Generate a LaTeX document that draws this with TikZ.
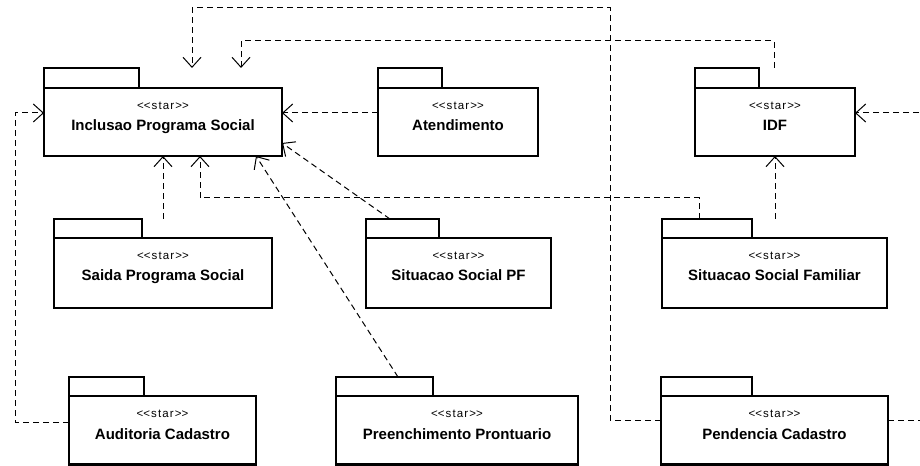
\documentclass[tikz,border=0pt]{standalone}
\usepackage{fontspec}
\setmainfont{Liberation Sans}
\usetikzlibrary{arrows.meta,fit}

% stereotype text, with kerns so the two angle brackets stay separate characters
\newcommand\stereotag{<\kern0pt<star>\kern0pt>}

% one UML package: outline area, body, tab, stereotype and title
% #1 id, #2 left, #3 tab top, #4 body top, #5 right, #6 bottom, #7 tab right, #8 title
\newcommand\umlpkg[8]{%
  \node[pkgarea, fit={(#2,#3) (#5,#6)}] (#1) {};
  \node[pkgbox, fit={(#2,#4) (#5,#6)}] (#1-body) {};
  \node[pkgbox, fit={(#2,#3) (#7,#4)}] (#1-tab) {};
  \node[stereo] (#1-st) at ([yshift=-21.5bp]#1-body.north) {\stereotag};
  \node[pkgname] (#1-nm) at ([yshift=-43bp]#1-body.north) {#8};
}

\tikzset{
  pkgarea/.style={rectangle, inner sep=0pt, outer sep=0pt},
  pkgbox/.style={rectangle, draw=black, line width=2.4bp, inner sep=0pt, outer sep=0pt, fill=white},
  stereo/.style={anchor=base, inner sep=0pt,
    font=\addfontfeature{LetterSpace=10}\fontsize{11.5bp}{13bp}\selectfont},
  pkgname/.style={anchor=base, inner sep=0pt, font=\bfseries\fontsize{15bp}{17bp}\selectfont},
  dep/.style={draw=black, line width=1bp, dash pattern=on 6bp off 4bp,
    -{Straight Barb[length=10bp, width=18bp, line width=1bp]}},
}

\begin{document}
\begin{tikzpicture}[x=1bp, y=-1bp]
  \useasboundingbox (0,0) rectangle (920,466);
  \fill[white] (0,0) rectangle (920,466);
  \clip (0,0) rectangle (920,466);

  % packages
  \umlpkg{inc}{44}{68}{88}{282}{156}{139}{Inclusao Programa Social}
  \umlpkg{ate}{378}{68}{88}{538}{156}{442}{Atendimento}
  \umlpkg{idf}{695}{68}{88}{855}{156}{759}{IDF}
  \umlpkg{sai}{54}{219}{238}{272}{308}{142}{Saida Programa Social}
  \umlpkg{sspf}{366}{219}{238}{551}{308}{439}{Situacao Social PF}
  \umlpkg{ssf}{662}{219}{238}{887}{308}{752}{Situacao Social Familiar}
  \umlpkg{aud}{69}{377}{396}{256}{464.5}{144}{Auditoria Cadastro}
  \umlpkg{pre}{336}{377}{396}{578}{464.5}{433}{Preenchimento Prontuario}
  \umlpkg{pen}{661}{377}{396}{888}{464.5}{752}{Pendencia Cadastro}

  % bend points of the routed dependencies
  \coordinate (w1a) at (610,420);
  \coordinate (w1b) at (610,8);
  \coordinate (w1c) at (192,8);
  \coordinate (w2a) at (774,41);
  \coordinate (w2b) at (241,41);
  \coordinate (w3) at (0,113);
  \coordinate (w4a) at (935,420);
  \coordinate (w4b) at (935,113);
  \coordinate (w5a) at (15,422);
  \coordinate (w5b) at (15,113);
  \coordinate (w6) at (163,0);
  \coordinate (w7a) at (699,198);
  \coordinate (w7b) at (200,198);
  \coordinate (w8) at (775,0);
  \coordinate (w9a) at (390,0);
  \coordinate (w9b) at (0,143);
  \coordinate (w10a) at (398,0);
  \coordinate (w10b) at (256,0);

  % dependencies
  \draw[dep] (pen.west |- w1a) -- (w1a) -- (w1b) -- (w1c) -- (w1c |- inc.north);
  \draw[dep] (w2a |- idf.north) -- (w2a) -- (w2b) -- (w2b |- inc.north);
  \draw[dep] (ate.west |- w3) -- (inc.east |- w3);
  \draw[dep] (pen.east |- w4a) -- (w4a) -- (w4b) -- (idf.east |- w4b);
  \draw[dep] (aud.west |- w5a) -- (w5a) -- (w5b) -- (inc.west |- w5b);
  \draw[dep] (w6 |- sai.north) -- (w6 |- inc.south);
  \draw[dep] (w7a |- ssf.north) -- (w7a) -- (w7b) -- (w7b |- inc.south);
  \draw[dep] (w8 |- ssf.north) -- (w8 |- idf.south);
  \draw[dep] (w9a |- sspf.north) -- (inc.east |- w9b);
  \draw[dep] (w10a |- pre.north) -- (w10b |- inc.south);
\end{tikzpicture}
\end{document}
